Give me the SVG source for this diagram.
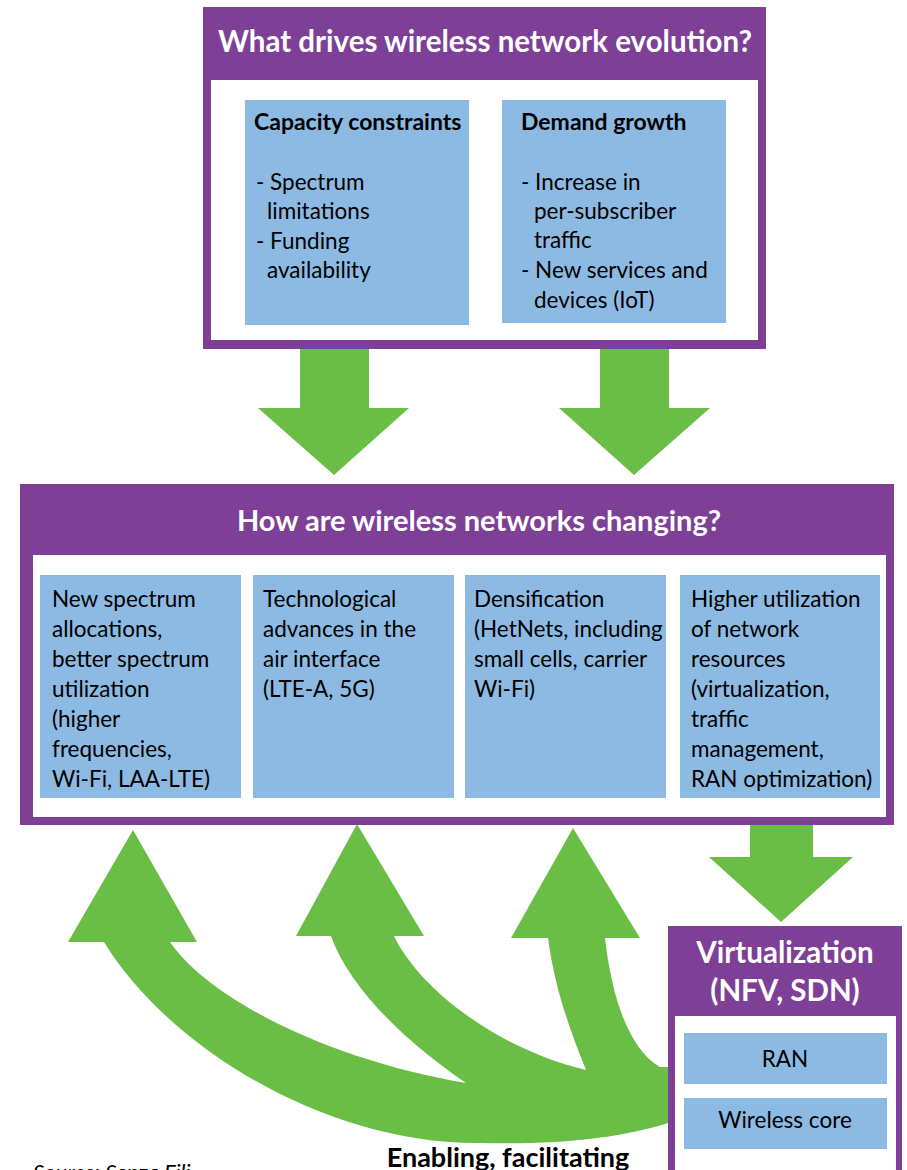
<svg xmlns="http://www.w3.org/2000/svg" width="907" height="1170" viewBox="0 0 907 1170">
  <style>
    .frame { fill: #7E3F97; }
    .inner { fill: #FFFFFF; }
    .card { fill: #8CBAE3; }
    .arrow { fill: #6BBE45; }
    .title { font-family: Lato, "Liberation Sans", sans-serif; font-weight: bold; fill: #FFFFFF; text-anchor: middle; }
    .head { font-family: Lato, "Liberation Sans", sans-serif; font-weight: bold; font-size: 23px; fill: #000000; }
    .body { font-family: Lato, "Liberation Sans", sans-serif; font-size: 22.5px; fill: #000000; }
    .center { text-anchor: middle; }
    .caption { font-size: 27px; }
    .source { font-size: 22px; font-style: italic; }
  </style>

  <!-- Connectors: block arrows between the panels -->
  <g id="connectors">
    <path class="arrow" d="M300 348 H369 V408 H409 L334 475 L258 408 H300 Z"/>
    <path class="arrow" d="M600 348 H669 V408 H710 L634 475 L559 408 H600 Z"/>
    <path class="arrow" d="M750 824 H813 V857 H853 L781 922 L709 857 H750 Z"/>
    <!-- fan of curved arrows rising from the virtualization panel -->
    <path class="arrow" d="M133 830 L197 942 L170 942 C210 1000 330 1060 466 1083 C410 1045 350 990 331 936 L296 936 L357 824 L424 936 L394 936 C420 990 500 1050 586 1070 C570 1030 555 990 548 938 L511 938 L573 828 L640 938 L605 938 C612 1000 630 1050 660 1067 L700 1067 L700 1125 L668 1123 C620 1138 560 1145 480 1143 C330 1145 170 1050 104 942 L68 942 Z"/>
  </g>

  <!-- Drivers panel -->
  <g id="drivers">
    <rect class="frame" x="203" y="7" width="563" height="342"/>
    <rect class="inner" x="211" y="80" width="547" height="260"/>
    <text class="title" x="485" y="52" font-size="29.5">What drives wireless network evolution?</text>
  </g>
  <g id="capacity">
    <rect class="card" x="245" y="100" width="224" height="225"/>
    <text class="head" x="254" y="130">Capacity constraints</text>
    <text class="body" x="256" y="190">- Spectrum</text>
    <text class="body" x="267" y="219">limitations</text>
    <text class="body" x="256" y="249">- Funding</text>
    <text class="body" x="267" y="278">availability</text>
  </g>
  <g id="demand">
    <rect class="card" x="502" y="100" width="224" height="223"/>
    <text class="head" x="521" y="130">Demand growth</text>
    <text class="body" x="521" y="190">- Increase in</text>
    <text class="body" x="534" y="219">per-subscriber</text>
    <text class="body" x="534" y="248">traffic</text>
    <text class="body" x="521" y="278">- New services and</text>
    <text class="body" x="534" y="308">devices (IoT)</text>
  </g>

  <!-- Changes panel -->
  <g id="changes">
    <rect class="frame" x="20" y="484" width="874" height="341"/>
    <rect class="inner" x="33" y="555" width="853" height="262"/>
    <text class="title" x="479" y="531" font-size="29">How are wireless networks changing?</text>
  </g>
  <g id="spectrum">
    <rect class="card" x="40" y="575" width="201" height="223"/>
    <text class="body" x="52" y="607">New spectrum</text>
    <text class="body" x="52" y="637">allocations,</text>
    <text class="body" x="52" y="667">better spectrum</text>
    <text class="body" x="52" y="697">utilization</text>
    <text class="body" x="52" y="727">(higher</text>
    <text class="body" x="52" y="757">frequencies,</text>
    <text class="body" x="52" y="787">Wi-Fi, LAA-LTE)</text>
  </g>
  <g id="air-interface">
    <rect class="card" x="253" y="575" width="201" height="223"/>
    <text class="body" x="263" y="607">Technological</text>
    <text class="body" x="263" y="637">advances in the</text>
    <text class="body" x="263" y="667">air interface</text>
    <text class="body" x="263" y="697">(LTE-A, 5G)</text>
  </g>
  <g id="densification">
    <rect class="card" x="465" y="575" width="201" height="223"/>
    <text class="body" x="474" y="607">Densification</text>
    <text class="body" x="474" y="637">(HetNets, including</text>
    <text class="body" x="474" y="667">small cells, carrier</text>
    <text class="body" x="474" y="697">Wi-Fi)</text>
  </g>
  <g id="utilization">
    <rect class="card" x="680" y="575" width="200" height="223"/>
    <text class="body" x="691" y="607">Higher utilization</text>
    <text class="body" x="691" y="637">of network</text>
    <text class="body" x="691" y="667">resources</text>
    <text class="body" x="691" y="697">(virtualization,</text>
    <text class="body" x="691" y="727">traffic</text>
    <text class="body" x="691" y="757">management,</text>
    <text class="body" x="691" y="787">RAN optimization)</text>
  </g>

  <!-- Virtualization panel -->
  <g id="virtualization">
    <rect class="frame" x="668" y="926" width="234" height="250"/>
    <rect class="inner" x="675" y="1016" width="221" height="160"/>
    <text class="title" x="785" y="963" font-size="29.5">Virtualization</text>
    <text class="title" x="785" y="1001" font-size="29.5">(NFV, SDN)</text>
  </g>
  <g id="ran">
    <rect class="card" x="684" y="1033" width="203" height="51"/>
    <text class="body center" x="785" y="1067">RAN</text>
  </g>
  <g id="wireless-core">
    <rect class="card" x="684" y="1098" width="203" height="51"/>
    <text class="body center" x="785" y="1128">Wireless core</text>
  </g>

  <!-- Captions -->
  <g id="captions">
    <text class="head center caption" x="508" y="1167">Enabling, facilitating</text>
    <text class="body source" x="33" y="1180">Source: Senza Fili</text>
  </g>
</svg>
